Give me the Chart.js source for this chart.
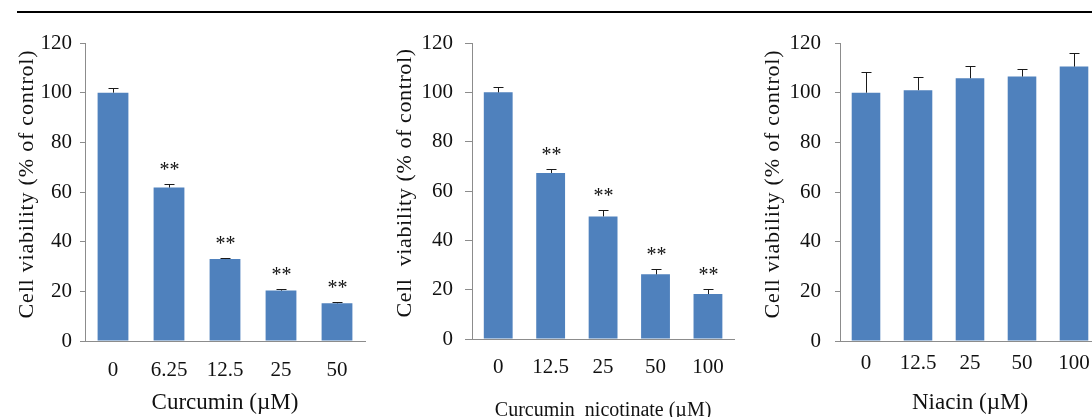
<!DOCTYPE html>
<html>
<head>
<meta charset="utf-8">
<script src="https://cdn.jsdelivr.net/npm/chart.js@4.4.1/dist/chart.umd.min.js"></script>
<style>
    html, body { margin: 0; padding: 0; background: #fff; overflow: hidden; }
    body { width: 1092px; height: 417px; position: relative; }
    .rule { position: absolute; left: 17px; top: 11px; width: 1075px; border-top: 2px solid #000; }
    .panel { position: absolute; top: 0; height: 417px; }
    .panel canvas { display: block; }
</style>
</head>
<body>
<div class="rule"></div>
<div class="panel" style="left:0px;width:370px;"><canvas id="chart-curcumin" width="370" height="417"></canvas></div>
<div class="panel" style="left:370px;width:370px;"><canvas id="chart-nicotinate" width="370" height="417"></canvas></div>
<div class="panel" style="left:730px;width:380px;"><canvas id="chart-niacin" width="380" height="417"></canvas></div>
<script>
// 농도별 세포 생존율 (% of control)
const curcuminLabels = ['0', '6.25', '12.5', '25', '50'];
const curcuminMeans = [100, 61.8, 33, 20.3, 15.2];
const curcuminErrors = [2, 1.4, 0.4, 0.5, 0.6];
const curcuminStars = ['', '**', '**', '**', '**'];

const nicotinateLabels = ['0', '12.5', '25', '50', '100'];
const nicotinateMeans = [100, 67.3, 49.7, 26.2, 18.2];
const nicotinateErrors = [2, 1.8, 2.6, 2.2, 2];
const nicotinateStars = ['', '**', '**', '**', '**'];

const niacinLabels = ['0', '12.5', '25', '50', '100'];
const niacinMeans = [100, 101, 105.8, 106.5, 110.5];
const niacinErrors = [8.5, 5.3, 5, 3.2, 5.5];
const niacinStars = ['', '', '', '', ''];

const yTicks = [0, 20, 40, 60, 80, 100, 120];

const BAR_COLOR = '#4F81BD';
const AXIS_COLOR = '#8c8c8c';
const FONT = "'Liberation Serif', 'Times New Roman', serif";

// 위쪽 오차막대 + 유의성 표시(**) + 세로축 제목
const errorBarPlugin = {
    id: 'errorBars',
    afterDatasetsDraw(chart, args, opts) {
        const ctx = chart.ctx;
        const meta = chart.getDatasetMeta(0);
        const yScale = chart.scales.y;
        ctx.save();
        ctx.strokeStyle = '#1a1a1a';
        ctx.lineWidth = 1;
        meta.data.forEach((bar, i) => {
            const mean = opts.means[i];
            const err = opts.errors[i];
            const x = Math.round(bar.x) + 0.5;
            const yTop = yScale.getPixelForValue(mean);
            const yErr = Math.round(yScale.getPixelForValue(mean + err)) + 0.5;
            ctx.beginPath();
            ctx.moveTo(x, yTop);
            ctx.lineTo(x, yErr);
            ctx.moveTo(x - 5, yErr);
            ctx.lineTo(x + 5, yErr);
            ctx.stroke();
            if (opts.stars[i]) {
                ctx.fillStyle = '#111';
                ctx.font = '20px ' + FONT;
                ctx.textAlign = 'center';
                ctx.textBaseline = 'middle';
                ctx.fillText(opts.stars[i], x, yErr - 14);
            }
        });
        ctx.restore();

        // 세로축 제목 (자간을 약간 넓힘)
        const area = chart.chartArea;
        ctx.save();
        ctx.translate(opts.titleX, (area.top + area.bottom) / 2 - 8);
        ctx.rotate(-Math.PI / 2);
        ctx.font = '22px ' + FONT;
        ctx.letterSpacing = opts.titleSpacing;
        ctx.fillStyle = '#111';
        ctx.textAlign = 'center';
        ctx.textBaseline = 'middle';
        ctx.fillText(opts.yTitle, 0, 0);
        ctx.restore();
    }
};

function renderPanel(canvasId, labels, means, errors, stars, xTitle, yTitle, box) {
    const ctx = document.getElementById(canvasId).getContext('2d');
    new Chart(ctx, {
        type: 'bar',
        data: {
            labels: labels,
            datasets: [{
                data: means,
                backgroundColor: BAR_COLOR,
                borderWidth: 0,
                barPercentage: 0.55,
                categoryPercentage: 1
            }]
        },
        options: {
            responsive: false,
            animation: false,
            devicePixelRatio: 1,
            layout: { padding: { left: box.padLeft, right: box.padRight, top: box.padTop, bottom: box.padBottom } },
            plugins: {
                legend: { display: false },
                tooltip: { enabled: false },
                errorBars: { means: means, errors: errors, stars: stars, yTitle: yTitle, titleX: box.titleX, titleSpacing: box.titleSpacing }
            },
            scales: {
                x: {
                    grid: { display: false, drawTicks: false },
                    border: { display: true, color: AXIS_COLOR, width: 1 },
                    ticks: { color: '#111', font: { family: FONT, size: 21 }, padding: box.xTickPad, maxRotation: 0 },
                    title: { display: true, text: xTitle, color: '#111', font: { family: FONT, size: box.xTitleSize }, padding: 0 },
                    afterFit: scale => { scale.height = box.xHeight; }
                },
                y: {
                    min: 0,
                    max: 120,
                    afterBuildTicks: scale => { scale.ticks = yTicks.map(v => ({ value: v })); },
                    grid: { display: true, drawOnChartArea: false, drawTicks: true, tickLength: box.tickLen, color: AXIS_COLOR },
                    border: { display: true, color: AXIS_COLOR, width: 1 },
                    ticks: { color: '#111', font: { family: FONT, size: 21 }, padding: box.yTickPad },
                    title: { display: false },
                    afterFit: scale => { scale.width = box.yWidth; }
                }
            }
        },
        plugins: [errorBarPlugin]
    });
}

renderPanel('chart-curcumin', curcuminLabels, curcuminMeans, curcuminErrors, curcuminStars,
    'Curcumin (\u00b5M)', 'Cell viability (% of control)',
    { padLeft: 14, padRight: 5, padTop: 43, padBottom: 0, yWidth: 71, xHeight: 76, tickLen: 5, yTickPad: 8, xTickPad: 17,
      titleX: 27, titleSpacing: '0.8px', xTitleSize: 23 });

renderPanel('chart-nicotinate', nicotinateLabels, nicotinateMeans, nicotinateErrors, nicotinateStars,
    'Curcumin  nicotinate (\u00b5M)', 'Cell  viability (% of control)',
    { padLeft: 22, padRight: 3, padTop: 43, padBottom: -6, yWidth: 80, xHeight: 84, tickLen: 7, yTickPad: 12, xTickPad: 16,
      titleX: 35, titleSpacing: '0.6px', xTitleSize: 20 });

renderPanel('chart-niacin', niacinLabels, niacinMeans, niacinErrors, niacinStars,
    'Niacin (\u00b5M)', 'Cell viability (% of control)',
    { padLeft: 30, padRight: 10, padTop: 43, padBottom: 0, yWidth: 80, xHeight: 76, tickLen: 5, yTickPad: 14, xTickPad: 10,
      titleX: 43, titleSpacing: '0.8px', xTitleSize: 23 });
</script>
</body>
</html>
